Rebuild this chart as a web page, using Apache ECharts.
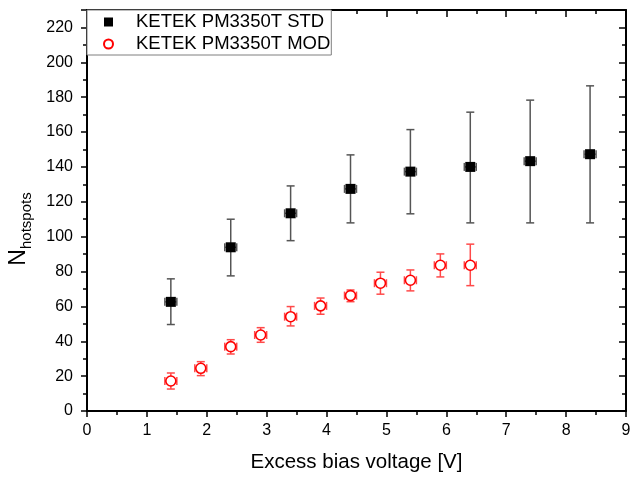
<!DOCTYPE html>
<html>
<head>
<meta charset="utf-8">
<script src="https://cdn.jsdelivr.net/npm/echarts@6/dist/echarts.min.js"></script>
<style>
html,body{margin:0;padding:0;background:#fff;}
#chart{width:630px;height:478px;}
</style>
</head>
<body>
<div id="chart"></div>
<script>
// ---- data ----
const seriesNames = ['KETEK PM3350T STD', 'KETEK PM3350T MOD'];

const stdX    = [1.4, 2.4, 3.4, 4.4, 5.4, 6.4, 7.4, 8.4];
const stdY    = [62.6, 93.9, 113.4, 127.4, 137.3, 140.0, 143.3, 147.3];
const stdLow  = [49.6, 77.5, 97.7, 107.9, 113.1, 107.9, 107.9, 107.9];
const stdHigh = [75.8, 110.0, 129.1, 146.9, 161.4, 171.4, 178.3, 186.5];
const stdXErr = [0.1, 0.1, 0.1, 0.1, 0.1, 0.1, 0.1, 0.1];

const modX    = [1.4, 1.9, 2.4, 2.9, 3.4, 3.9, 4.4, 4.9, 5.4, 5.9, 6.4];
const modY    = [17.2, 24.5, 36.9, 43.6, 54.1, 60.3, 66.2, 73.3, 75.0, 83.6, 83.6];
const modLow  = [12.6, 20.3, 32.7, 39.4, 48.8, 55.5, 62.7, 67.0, 68.9, 76.9, 71.9];
const modHigh = [21.8, 28.3, 40.9, 47.8, 59.9, 64.8, 69.4, 79.6, 80.9, 90.1, 95.7];
const modXErr = [0.1, 0.1, 0.1, 0.1, 0.1, 0.1, 0.1, 0.1, 0.1, 0.1, 0.1];

const xTicks = [0, 1, 2, 3, 4, 5, 6, 7, 8, 9];
const yTicks = [0, 20, 40, 60, 80, 100, 120, 140, 160, 180, 200, 220];

// ---- build ----
function pts(xs, ys) { return xs.map((x, i) => [x, ys[i]]); }
function errs(xs, ys, lo, hi, dx) { return xs.map((x, i) => [x, ys[i], lo[i], hi[i], dx[i]]); }

function makeErr(color, w) {
  return function (params, api) {
    const x = api.value(0), y = api.value(1), lo = api.value(2), hi = api.value(3), dx = api.value(4);
    const pHi = api.coord([x, hi]), pLo = api.coord([x, lo]);
    const pL = api.coord([x - dx, y]), pR = api.coord([x + dx, y]);
    const c = 4;
    const st = { stroke: color, lineWidth: w, fill: null };
    const L = (x1, y1, x2, y2) => ({ type: 'line', shape: { x1, y1, x2, y2 }, style: st });
    return {
      type: 'group',
      children: [
        L(pHi[0], pHi[1], pLo[0], pLo[1]),
        L(pHi[0] - c, pHi[1], pHi[0] + c, pHi[1]),
        L(pLo[0] - c, pLo[1], pLo[0] + c, pLo[1]),
        L(pL[0], pL[1], pR[0], pR[1]),
        L(pL[0], pL[1] - c, pL[0], pL[1] + c),
        L(pR[0], pR[1] - c, pR[0], pR[1] + c)
      ]
    };
  };
}

const FONT = '"Liberation Sans", Arial, sans-serif';
const axisLineStyle = { color: '#000', width: 2 };

const chart = echarts.init(document.getElementById('chart'), null, { renderer: 'canvas' });
chart.setOption({
  animation: false,
  backgroundColor: '#fff',
  textStyle: { fontFamily: FONT },
  grid: { left: 87, right: 4, top: 10, bottom: 67, containLabel: false, outerBoundsMode: 'none' },
  legend: {
    orient: 'vertical',
    left: 87, top: 10,
    data: seriesNames,
    backgroundColor: '#fff',
    borderColor: '#7f7f7f',
    borderWidth: 1,
    padding: [2, 1, 1, 16],
    itemWidth: 9, itemHeight: 9,
    itemGap: 2,
    textStyle: { fontFamily: FONT, fontSize: 18.5, color: '#000', lineHeight: 20, padding: [0, 0, 0, 18] },
    z: 20
  },
  xAxis: [{
    type: 'value', position: 'bottom',
    min: 0, max: 9, interval: 1,
    name: 'Excess bias voltage [V]', nameLocation: 'middle', nameGap: 41,
    nameTextStyle: { fontFamily: FONT, fontSize: 20.5, color: '#000' },
    axisLine: { show: true, onZero: false, lineStyle: axisLineStyle },
    axisTick: { show: true, inside: false, length: 6, lineStyle: { color: '#000', width: 1.5 } },
    minorTick: { show: true, splitNumber: 2, length: 4, lineStyle: { color: '#000', width: 1.5 } },
    axisLabel: { fontFamily: FONT, fontSize: 16, color: '#000', margin: 12,
      formatter: v => (xTicks.indexOf(v) >= 0 ? String(v) : '') },
    splitLine: { show: false }
  }, {
    type: 'value', position: 'top',
    min: 0, max: 9, interval: 1,
    axisLine: { show: true, onZero: false, lineStyle: axisLineStyle },
    axisTick: { show: true, inside: true, length: 7, lineStyle: { color: '#000', width: 1.5 } },
    minorTick: { show: true, splitNumber: 2, length: 4, lineStyle: { color: '#000', width: 1.5 } },
    axisLabel: { show: false },
    splitLine: { show: false }
  }],
  yAxis: [{
    type: 'value', position: 'left',
    min: 0, max: 230, interval: 20,
    name: '{n|N}{s|hotspots}', nameLocation: 'middle', nameRotate: 90, nameGap: 53,
    nameTextStyle: {
      fontFamily: FONT, color: '#000',
      padding: [0, 37, 0, 0],
      rich: {
        n: { fontFamily: FONT, fontSize: 23, color: '#000', verticalAlign: 'bottom', padding: [0, 0, 4, 0] },
        s: { fontFamily: FONT, fontSize: 15, color: '#000', verticalAlign: 'bottom' }
      }
    },
    axisLine: { show: true, onZero: false, lineStyle: axisLineStyle },
    axisTick: { show: true, inside: false, length: 6, lineStyle: { color: '#000', width: 1.5 } },
    minorTick: { show: true, splitNumber: 2, length: 4, lineStyle: { color: '#000', width: 1.5 } },
    axisLabel: { fontFamily: FONT, fontSize: 16, color: '#000', margin: 14, showMaxLabel: false,
      formatter: v => (yTicks.indexOf(v) >= 0 ? String(v) : '') },
    splitLine: { show: false }
  }, {
    type: 'value', position: 'right',
    min: 0, max: 230, interval: 20,
    axisLine: { show: true, onZero: false, lineStyle: axisLineStyle },
    axisTick: { show: true, inside: true, length: 7, lineStyle: { color: '#000', width: 1.5 } },
    minorTick: { show: true, splitNumber: 2, length: 4, lineStyle: { color: '#000', width: 1.5 } },
    axisLabel: { show: false },
    splitLine: { show: false }
  }],
  series: [
    {
      type: 'custom', name: 'stdErr', xAxisIndex: 0, yAxisIndex: 0,
      renderItem: makeErr('#555555', 1.5),
      data: errs(stdX, stdY, stdLow, stdHigh, stdXErr),
      z: 2, silent: true
    },
    {
      type: 'custom', name: 'modErr', xAxisIndex: 0, yAxisIndex: 0,
      renderItem: makeErr('#ff4a4a', 1.5),
      data: errs(modX, modY, modLow, modHigh, modXErr),
      z: 2, silent: true
    },
    {
      type: 'scatter', name: seriesNames[0], xAxisIndex: 0, yAxisIndex: 0,
      symbol: 'rect', symbolSize: 10,
      itemStyle: { color: '#000', opacity: 1 },
      data: pts(stdX, stdY), z: 5
    },
    {
      type: 'scatter', name: seriesNames[1], xAxisIndex: 0, yAxisIndex: 0,
      symbol: 'circle', symbolSize: 10,
      itemStyle: { color: '#fff', borderColor: '#ff0000', borderWidth: 1.6, opacity: 1 },
      data: pts(modX, modY), z: 5
    }
  ]
});
</script>
</body>
</html>
